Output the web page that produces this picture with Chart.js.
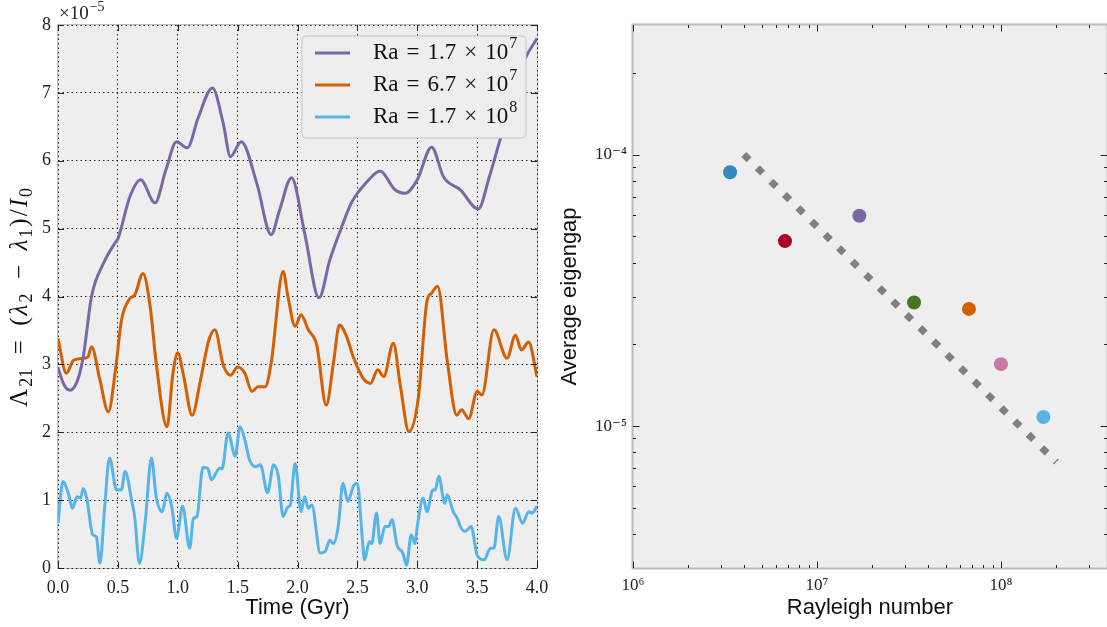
<!DOCTYPE html>
<html><head><meta charset="utf-8">
<script src="https://cdn.jsdelivr.net/npm/chart.js@4.4.0/dist/chart.umd.min.js"></script>
<style>
html,body{margin:0;padding:0;background:#fff;overflow:hidden;}
#w1{position:absolute;left:0;top:0;width:553px;height:627px;}
#w2{position:absolute;left:553px;top:0;width:554px;height:627px;}
</style></head><body>
<div id="w1"><canvas id="c1"></canvas></div>
<div id="w2"><canvas id="c2"></canvas></div>
<script>
// ---------- Left panel data (values in units of 1e-5) ----------
const seriesLabels = ['Ra = 1.7 × 10⁷', 'Ra = 6.7 × 10⁷', 'Ra = 1.7 × 10⁸'];
const seriesColors = ['#7A68A6', '#D55E00', '#56B4E9'];

const purpleTime = [0,0.05,0.1,0.16,0.21,0.28,0.38,0.48,0.5,0.6,0.69,0.81,0.9,0.99,1.08,1.17,1.29,1.38,1.44,1.53,1.66,1.78,1.85,1.95,2.06,2.18,2.27,2.37,2.45,2.58,2.69,2.81,2.9,3.0,3.12,3.22,3.36,3.51,3.6,3.69,3.8,3.9,4.0];
const purpleVal  = [2.95,2.7,2.62,2.75,3.1,4.0,4.49,4.8,4.85,5.47,5.72,5.38,5.86,6.28,6.19,6.63,7.07,6.55,6.06,6.28,5.67,4.91,5.27,5.75,4.93,3.98,4.54,5.03,5.38,5.69,5.85,5.58,5.52,5.72,6.2,5.76,5.57,5.29,5.75,6.3,6.95,7.5,7.8];

const orangeTime = [0,0.07,0.13,0.21,0.25,0.28,0.35,0.42,0.48,0.53,0.6,0.64,0.71,0.77,0.82,0.91,0.96,1.0,1.05,1.12,1.19,1.26,1.31,1.38,1.44,1.5,1.56,1.62,1.67,1.73,1.78,1.88,1.92,1.98,2.03,2.09,2.16,2.24,2.3,2.35,2.41,2.47,2.55,2.61,2.67,2.72,2.8,2.86,2.93,3.01,3.08,3.12,3.17,3.25,3.33,3.37,3.43,3.5,3.54,3.64,3.75,3.82,3.87,3.93,4.0];
const orangeVal  = [3.38,2.87,3.06,3.09,3.11,3.26,2.77,2.30,2.92,3.65,3.97,4.02,4.34,3.85,3.02,2.08,2.87,3.17,2.82,2.25,2.77,3.36,3.51,2.99,2.84,2.96,2.87,2.6,2.67,2.67,3.02,4.37,4.0,3.56,3.73,3.51,3.29,2.4,3.02,3.58,3.41,3.09,2.79,2.72,2.92,2.82,3.31,2.67,2.01,2.52,3.92,4.05,4.15,3.06,2.25,2.33,2.2,2.6,2.55,3.51,3.09,3.43,3.21,3.33,2.82];

const blueTime = [0,0.04,0.09,0.12,0.16,0.19,0.21,0.24,0.29,0.32,0.35,0.39,0.43,0.49,0.53,0.56,0.62,0.64,0.68,0.73,0.78,0.82,0.87,0.91,0.95,0.99,1.04,1.1,1.13,1.16,1.21,1.25,1.28,1.35,1.37,1.42,1.48,1.52,1.56,1.6,1.65,1.69,1.75,1.8,1.84,1.88,1.92,1.94,1.98,2.03,2.06,2.09,2.12,2.19,2.23,2.27,2.3,2.34,2.38,2.42,2.47,2.5,2.54,2.56,2.6,2.62,2.66,2.69,2.73,2.76,2.79,2.83,2.88,2.91,2.95,2.98,3.0,3.05,3.08,3.13,3.15,3.18,3.23,3.25,3.3,3.34,3.36,3.4,3.45,3.5,3.56,3.61,3.64,3.68,3.75,3.82,3.88,3.93,3.96,4.0];
const blueVal  = [0.66,1.27,1.08,0.88,1.05,1.03,1.17,1.03,0.49,0.46,0.07,0.9,1.62,1.15,1.15,1.42,0.95,0.76,0.07,0.71,1.62,1.05,0.83,1.1,0.9,0.44,0.91,0.29,0.73,0.76,1.48,1.47,1.3,1.47,1.46,1.99,1.65,2.08,1.89,1.59,1.49,1.52,1.11,1.52,1.35,0.76,0.9,0.93,1.54,0.83,1.05,0.88,0.93,0.22,0.24,0.41,0.36,0.61,1.25,0.98,1.22,1.25,0.46,0.12,0.39,0.36,0.81,0.36,0.61,0.61,0.71,0.34,0.22,0.04,0.49,0.36,0.61,1.03,0.83,1.15,1.15,1.35,0.95,1.08,0.83,0.71,0.61,0.54,0.61,0.19,0.12,0.29,0.29,0.76,0.12,0.88,0.66,0.83,0.81,0.91];

const leftXTicks = [0,0.5,1,1.5,2,2.5,3,3.5,4];
const leftYTicks = [0,1,2,3,4,5,6,7,8];
const leftYTitle = 'Λ₂₁ = (λ₂ − λ₁)/I₀';

// ---------- Right panel data ----------
const rayleigh  = [3.37e6, 6.7e6, 1.7e7, 3.37e7, 6.7e7, 1.0e8, 1.7e8];
const eigengap  = [8.6e-5, 4.8e-5, 5.95e-5, 2.85e-5, 2.7e-5, 1.69e-5, 1.08e-5];
const pointColors = ['#348ABD','#A60628','#7A68A6','#467821','#D55E00','#CC79A7','#56B4E9'];
const fitRa  = [4e6, 2e8];
const fitGap = [1e-4, 7.37e-6];
const rightXTicks = [1e6, 1e7, 1e8];
const rightYTicks = [1e-5, 1e-4];
const rightXRange = [1e6, 3.77e8];
const rightYRange = [3e-6, 3e-4];

// ---------- helpers ----------
const SERIF = "'Liberation Serif', 'DejaVu Serif', serif";
const SANS = "'Liberation Sans', Arial, sans-serif";
const supMap = {'0':'⁰','1':'¹','2':'²','3':'³','4':'⁴','5':'⁵','6':'⁶','7':'⁷','8':'⁸','9':'⁹','-':'⁻'};
const subMap = {'0':'₀','1':'₁','2':'₂','3':'₃','4':'₄','5':'₅','6':'₆','7':'₇','8':'₈','9':'₉'};
const revSup = {}; Object.keys(supMap).forEach(k => revSup[supMap[k]] = k);
const revSub = {}; Object.keys(subMap).forEach(k => revSub[subMap[k]] = k);
function pow10Label(v){ const e = Math.round(Math.log10(v)); return '10' + String(e).split('').map(c => supMap[c]).join(''); }
function pairs(t, v){ return t.map((x, i) => ({x: x, y: v[i]})); }

function tickSets(scale){
  const major = scale.ticks.map(t => t.value);
  const minor = [];
  if (scale.type === 'logarithmic') {
    const lo = Math.floor(Math.log10(scale.min)), hi = Math.ceil(Math.log10(scale.max));
    for (let e = lo; e <= hi; e++) for (let m = 2; m <= 9; m++) {
      const v = m * Math.pow(10, e);
      if (v > scale.min && v < scale.max) minor.push(v);
    }
  }
  return {major, minor};
}

function drawInTicks(chart, o){
  const {ctx, chartArea: a} = chart;
  const xs = chart.scales.x, ys = chart.scales.y;
  const X = tickSets(xs), Y = tickSets(ys);
  ctx.save();
  ctx.strokeStyle = o.tickColor; ctx.lineWidth = 1;
  ctx.beginPath();
  const addX = (v, len) => { const p = Math.round(xs.getPixelForValue(v)) + 0.5;
    ctx.moveTo(p, a.bottom); ctx.lineTo(p, a.bottom - len); ctx.moveTo(p, a.top); ctx.lineTo(p, a.top + len); };
  const addY = (v, len) => { const p = Math.round(ys.getPixelForValue(v)) + 0.5;
    ctx.moveTo(a.left, p); ctx.lineTo(a.left + len, p); ctx.moveTo(a.right, p); ctx.lineTo(a.right - len, p); };
  X.major.forEach(v => addX(v, o.major)); X.minor.forEach(v => addX(v, o.minor));
  Y.major.forEach(v => addY(v, o.major)); Y.minor.forEach(v => addY(v, o.minor));
  ctx.stroke();
  ctx.restore();
}

function drawMathLabel(ctx, text, x, yMid, size, gap){
  let i = text.length; while (i > 0 && revSup[text[i-1]]) i--;
  const base = text.slice(0, i).split(' ');
  const sup = text.slice(i).split('').map(c => revSup[c]).join('').replace('-', '−');
  ctx.font = size + 'px ' + SERIF;
  ctx.textBaseline = 'middle'; ctx.textAlign = 'left';
  let cx = x;
  base.forEach((tok, k) => { ctx.fillText(tok, cx, yMid); cx += ctx.measureText(tok).width + (k < base.length - 1 ? gap : 0); });
  if (sup) { ctx.font = Math.round(size * 0.7) + 'px ' + SERIF; ctx.fillText(sup, cx + 1, yMid - size * 0.38); }
}

// rotated math title: greek lambda / latin I italic, subscripts lowered, spaced operators
function drawMathTitle(ctx, text, cx, cy, size){
  const subSize = Math.round(size * 0.7);
  const toks = [];
  for (const ch of text) {
    if (revSub[ch]) { const last = toks[toks.length - 1];
      if (last && last.sub) last.t += revSub[ch]; else toks.push({t: revSub[ch], sub: true}); }
    else if (ch === ' ') toks.push({gap: true});
    else toks.push({t: ch, it: (ch === 'λ' || ch === 'I')});
  }
  const fontOf = tk => (tk.sub ? subSize + 'px ' : (tk.it ? 'italic ' + size + 'px ' : size + 'px ')) + SERIF;
  const gapW = size * 0.5, kern = 2;
  let total = 0;
  toks.forEach(tk => { if (tk.gap) total += gapW; else { ctx.font = fontOf(tk); total += ctx.measureText(tk.t).width + kern; } });
  ctx.save();
  ctx.translate(cx, cy); ctx.rotate(-Math.PI / 2);
  ctx.fillStyle = '#111'; ctx.textBaseline = 'middle'; ctx.textAlign = 'left';
  let x = -total / 2;
  toks.forEach(tk => {
    if (tk.gap) { x += gapW; return; }
    ctx.font = fontOf(tk);
    ctx.fillText(tk.t, x, tk.sub ? size * 0.28 : 0);
    x += ctx.measureText(tk.t).width + kern;
  });
  ctx.restore();
}

const decor = {
  id: 'decor',
  beforeDraw(chart, args, o){
    const {ctx, chartArea: a} = chart;
    ctx.save();
    ctx.fillStyle = o.bg;
    ctx.fillRect(a.left, a.top, a.right - a.left, a.bottom - a.top);
    ctx.strokeStyle = o.spine; ctx.lineWidth = o.spineWidth;
    ctx.strokeRect(a.left - 0.5, a.top - 0.5, a.right - a.left + 1, a.bottom - a.top + 1);
    ctx.restore();
    if (o.yTitle) drawMathTitle(ctx, o.yTitle, 20, (a.top + a.bottom) / 2, 25);
  },
  afterDatasetsDraw(chart, args, o){
    const {ctx, chartArea: a} = chart;
    drawInTicks(chart, o);
    if (o.offsetText) {
      ctx.save(); ctx.fillStyle = '#222';
      ctx.font = '19px ' + SERIF; ctx.textBaseline = 'alphabetic'; ctx.textAlign = 'left';
      ctx.fillText('×10', a.left + 1, a.top - 6);
      const w = ctx.measureText('×10').width;
      ctx.font = '14px ' + SERIF;
      ctx.fillText('−5', a.left + w + 2, a.top - 14);
      ctx.restore();
    }
    if (o.legend) {
      const L = o.legend;
      ctx.save();
      ctx.beginPath();
      ctx.roundRect(L.x, L.y, L.w, L.h, 4);
      ctx.fillStyle = '#eeeeee'; ctx.fill();
      ctx.strokeStyle = '#c8c8c8'; ctx.lineWidth = 1; ctx.stroke();
      chart.data.datasets.forEach((ds, i) => {
        const y = L.y + L.first + i * L.step;
        ctx.strokeStyle = ds.borderColor; ctx.lineWidth = 3;
        ctx.beginPath(); ctx.moveTo(L.x + 13, y); ctx.lineTo(L.x + 48, y); ctx.stroke();
        ctx.fillStyle = '#111';
        drawMathLabel(ctx, ds.label, L.x + 71, y, 23, 8);
      });
      ctx.restore();
    }
  }
};

const noSidePad = s => { s.paddingLeft = 0; s.paddingRight = 0; };

// ---------- Left chart ----------
new Chart(document.getElementById('c1'), {
  type: 'line',
  data: {
    datasets: [
      {label: seriesLabels[0], data: pairs(purpleTime, purpleVal), borderColor: seriesColors[0]},
      {label: seriesLabels[1], data: pairs(orangeTime, orangeVal), borderColor: seriesColors[1]},
      {label: seriesLabels[2], data: pairs(blueTime, blueVal), borderColor: seriesColors[2]}
    ].map(d => Object.assign(d, {borderWidth: 3, pointRadius: 0, pointHoverRadius: 0, fill: false, cubicInterpolationMode: 'monotone', borderJoinStyle: 'round'}))
  },
  options: {
    responsive: true, maintainAspectRatio: false, animation: false,
    layout: {autoPadding: false, padding: {top: 25, right: 16, left: 0, bottom: 0}},
    plugins: {
      legend: {display: false}, tooltip: {enabled: false},
      decor: {bg: '#eeeeee', spine: '#bcbcbc', spineWidth: 1, tickColor: '#222', major: 6, minor: 3,
              offsetText: true, yTitle: leftYTitle,
              legend: {x: 302, y: 36, w: 224, h: 102, first: 17, step: 32}}
    },
    scales: {
      x: {
        type: 'linear', min: 0, max: 4,
        afterBuildTicks: s => { s.ticks = leftXTicks.map(v => ({value: v})); },
        afterFit: s => { s.height = 59; noSidePad(s); },
        grid: {color: 'rgba(0,0,0,0.85)', lineWidth: 1, drawTicks: false},
        border: {display: false, dash: [1.5, 3]},
        ticks: {padding: 9, color: '#222', font: {family: SERIF, size: 18}, maxRotation: 0, autoSkip: false,
                callback: v => Number(v).toFixed(1)},
        title: {display: true, text: 'Time (Gyr)', color: '#111', font: {family: SANS, size: 22}, padding: {top: 0, bottom: 6}}
      },
      y: {
        type: 'linear', min: 0, max: 8,
        afterBuildTicks: s => { s.ticks = leftYTicks.map(v => ({value: v})); },
        afterFit: s => { s.width = 58; },
        grid: {color: 'rgba(0,0,0,0.85)', lineWidth: 1, drawTicks: false},
        border: {display: false, dash: [1.5, 3]},
        ticks: {padding: 7, color: '#222', font: {family: SERIF, size: 18}, callback: v => String(v)},
        title: {display: false, text: leftYTitle}
      }
    }
  },
  plugins: [decor]
});

// ---------- Right chart ----------
new Chart(document.getElementById('c2'), {
  type: 'scatter',
  data: {
    datasets: [
      {label: 'Simulations', data: pairs(rayleigh, eigengap), pointRadius: 7, pointHoverRadius: 7,
       pointBackgroundColor: pointColors, pointBorderWidth: 0, showLine: false},
      {label: 'Fit', data: pairs(fitRa, fitGap), showLine: true, pointRadius: 0, pointHoverRadius: 0, borderColor: '#808080',
       borderWidth: 7, borderDash: [7.5, 11.5], borderCapStyle: 'butt', fill: false}
    ]
  },
  options: {
    responsive: true, maintainAspectRatio: false, animation: false,
    layout: {autoPadding: false, padding: {top: 25, right: 0, left: 0, bottom: 0}},
    plugins: {
      legend: {display: false}, tooltip: {enabled: false},
      decor: {bg: '#eeeeee', spine: '#bcbcbc', spineWidth: 2, tickColor: '#222', major: 6.5, minor: 3}
    },
    scales: {
      x: {
        type: 'logarithmic', min: rightXRange[0], max: rightXRange[1],
        afterBuildTicks: s => { s.ticks = rightXTicks.map(v => ({value: v})); },
        afterFit: s => { s.height = 59; noSidePad(s); },
        grid: {display: false, drawTicks: false},
        border: {display: false},
        ticks: {padding: 7, color: '#222', font: {family: SERIF, size: 17}, maxRotation: 0, autoSkip: false,
                callback: v => pow10Label(v)},
        title: {display: true, text: 'Rayleigh number', color: '#111', font: {family: SANS, size: 22}, padding: {top: 0, bottom: 6}}
      },
      y: {
        type: 'logarithmic', min: rightYRange[0], max: rightYRange[1],
        afterBuildTicks: s => { s.ticks = rightYTicks.map(v => ({value: v})); },
        afterFit: s => { s.width = 80; },
        grid: {display: false, drawTicks: false},
        border: {display: false},
        ticks: {padding: 6, color: '#222', font: {family: SERIF, size: 17}, callback: v => pow10Label(v)},
        title: {display: true, text: 'Average eigengap', color: '#111', font: {family: SANS, size: 22}, padding: {top: 4, bottom: 0}}
      }
    }
  },
  plugins: [decor]
});
</script>
</body></html>
